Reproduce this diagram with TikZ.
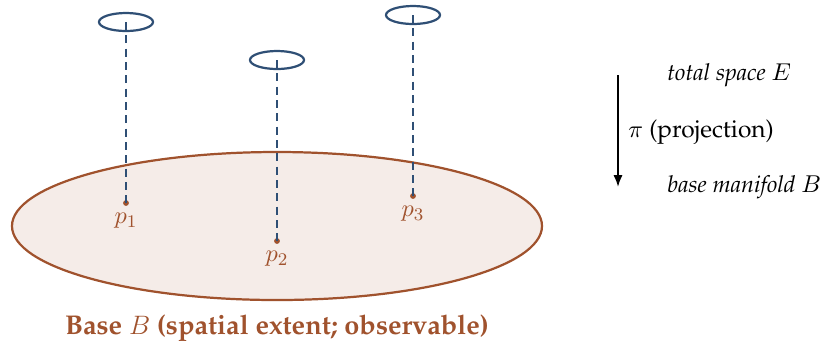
\documentclass[tikz,border=0pt]{standalone}
\usepackage[T1]{fontenc}
\renewcommand{\rmdefault}{ppl}
\usetikzlibrary{arrows.meta,positioning,shapes.geometric}
\definecolor{basebrn}{HTML}{A0522D}
\definecolor{basefil}{HTML}{F5ECE8}
\definecolor{fibblue}{HTML}{2F4F75}
\begin{document}
\begin{tikzpicture}[
  x=0.45pt, y=-0.45pt,
  font=\fontsize{11}{13.6}\selectfont,
  base/.style={ellipse, draw=basebrn, fill=basefil, line width=1pt,
               minimum width=238.5pt, minimum height=66.6pt, inner sep=0pt, outer sep=0pt},
  fiber/.style={ellipse, draw=fibblue, line width=1pt,
                minimum width=24.3pt, minimum height=8.1pt, inner sep=0pt},
  pt/.style={circle, fill=basebrn, minimum size=2.6pt, inner sep=0pt},
  plab/.style={text=basebrn},
  lift/.style={draw=fibblue, line width=0.9pt, dash pattern=on 3.6pt off 2.4pt},
  ann/.style={anchor=west, inner sep=0pt, font=\fontsize{10.5}{13}\selectfont},
]
\useasboundingbox (0,0) rectangle (823,347);

% ---- base manifold ----
\node[base] (B) at (277,226) {};
\node[font=\fontsize{12.2}{14.6}\selectfont\bfseries, text=basebrn] (blab) at (277,328)
  {Base $B$ (spatial extent; observable)};

% ---- points and fibers ----
\node[pt] (p1) at (126,203) {};
\node[pt] (p2) at (277,241) {};
\node[pt] (p3) at (413,196) {};
\node[plab, below=-0.5pt of p1] (l1) {$p_1$};
\node[plab, below=-0.5pt of p2] (l2) {$p_2$};
\node[plab, below=-0.5pt of p3] (l3) {$p_3$};

\node[fiber] (f1) at (126,22) {};
\node[fiber] (f2) at (277,60) {};
\node[fiber] (f3) at (413,15) {};

\draw[lift] (f1.center) -- (p1.center);
\draw[lift] (f2.center) -- (p2.center);
\draw[lift] (f3.center) -- (p3.center);

% ---- projection arrow ----
\coordinate (atop) at (618,75);
\coordinate (abot) at (618,187);
\draw[-{Latex[length=5.4pt,width=4.2pt]}, line width=0.9pt] (atop) -- (abot);
\node[ann] (E) at (667,75) {\textit{total space $E$}};
\node[ann, font=\fontsize{11}{13.6}\selectfont] (pi) at (628,132) {$\pi$ (projection)};
\node[ann] (M) at (667,187) {\textit{base manifold $B$}};
\end{tikzpicture}
\end{document}
